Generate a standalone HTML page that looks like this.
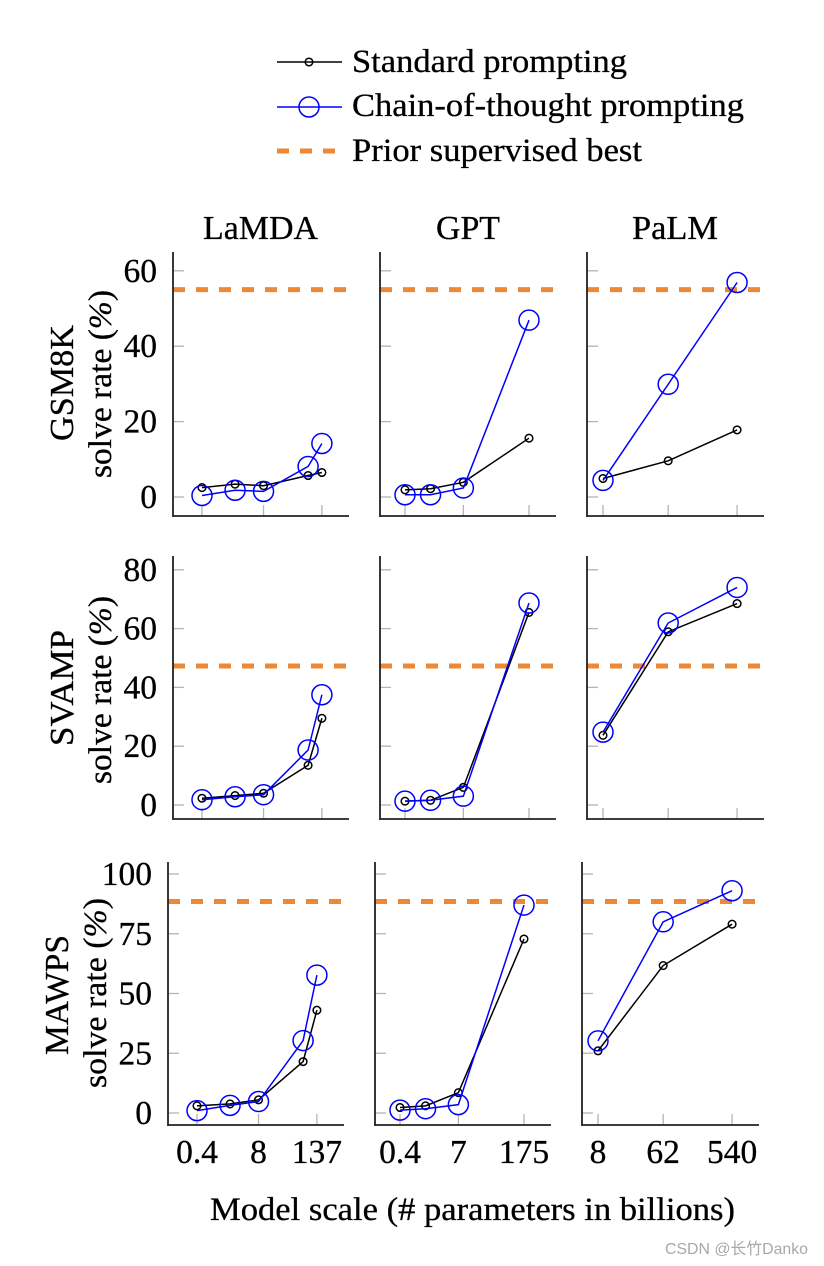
<!DOCTYPE html>
<html lang="en">
<head>
<meta charset="utf-8">
<title>Model scale vs solve rate</title>
<style>
html,body{margin:0;padding:0;background:#fff;}
svg{display:block;font-family:"Liberation Serif","Noto Serif CJK SC",serif;fill:#000;}
text{stroke:#000;stroke-width:0.3px;}
text.wm{font-family:"Liberation Sans","Noto Sans CJK SC",sans-serif;stroke:none;fill:#a8a8a8;}
</style>
</head>
<body>
<svg id="chart" width="824" height="1266" viewBox="0 0 824 1266" xmlns="http://www.w3.org/2000/svg">
  <g>
    <g>
      <line x1="277" y1="62" x2="342" y2="62" stroke="#000" stroke-width="1.5"/>
      <circle cx="309" cy="62" r="3.8" fill="none" stroke="#000" stroke-width="1.5"/>
      <text x="352" y="72" font-size="33" textLength="275" lengthAdjust="spacingAndGlyphs">Standard prompting</text>
    </g>
    <g>
      <line x1="277" y1="107" x2="342" y2="107" stroke="#0000ff" stroke-width="1.5"/>
      <circle cx="309" cy="107" r="10" fill="none" stroke="#0000ff" stroke-width="1.5"/>
      <text x="352" y="116" font-size="33" textLength="392" lengthAdjust="spacingAndGlyphs">Chain-of-thought prompting</text>
    </g>
    <g>
      <line x1="277" y1="151" x2="336" y2="151" stroke="#ed8936" stroke-width="5" stroke-dasharray="12 11"/>
      <text x="352" y="161" font-size="33" textLength="290" lengthAdjust="spacingAndGlyphs">Prior supervised best</text>
    </g>
  </g>
  <text x="203" y="239" font-size="34" textLength="115" lengthAdjust="spacingAndGlyphs">LaMDA</text>
  <text x="436" y="239" font-size="34" textLength="64" lengthAdjust="spacingAndGlyphs">GPT</text>
  <text x="632" y="239" font-size="34" textLength="86" lengthAdjust="spacingAndGlyphs">PaLM</text>

  <text transform="translate(73,441) rotate(-90)" font-size="34" textLength="116" lengthAdjust="spacingAndGlyphs">GSM8K</text>
  <text transform="translate(111,478) rotate(-90)" font-size="33" textLength="188" lengthAdjust="spacingAndGlyphs">solve rate (<tspan font-style="italic">%</tspan>)</text>
  <text transform="translate(73,746) rotate(-90)" font-size="34" textLength="116" lengthAdjust="spacingAndGlyphs">SVAMP</text>
  <text transform="translate(111,784) rotate(-90)" font-size="33" textLength="188" lengthAdjust="spacingAndGlyphs">solve rate (<tspan font-style="italic">%</tspan>)</text>
  <text transform="translate(68,1055) rotate(-90)" font-size="34" textLength="120" lengthAdjust="spacingAndGlyphs">MAWPS</text>
  <text transform="translate(106,1088) rotate(-90)" font-size="33" textLength="190" lengthAdjust="spacingAndGlyphs">solve rate (<tspan font-style="italic">%</tspan>)</text>

  <text x="210" y="1220" font-size="33" textLength="525" lengthAdjust="spacingAndGlyphs">Model scale (# parameters in billions)</text>
  <text class="wm" x="665" y="1254" font-size="16" textLength="143" lengthAdjust="spacingAndGlyphs">CSDN @长竹Danko</text>
  <g id="panels"></g>
</svg>
<script>
// Model sizes (billions of parameters)
const lamdaScale = [0.4, 2, 8, 70, 137];
const gptScale = [0.4, 1.4, 7, 175];
const palmScale = [8, 62, 540];

// x tick values and labels
const lamdaTicks = [0.4, 8, 137];
const gptTicks = [0.4, 7, 175];
const palmTicks = [8, 62, 540];

// y tick values
const gsmYTicks = [0, 20, 40, 60];
const svampYTicks = [0, 20, 40, 60, 80];
const mawpsYTicks = [0, 25, 50, 75, 100];

// Prior supervised best per dataset
const gsmPrior = 55;
const svampPrior = 47.3;
const mawpsPrior = 88.5;

// GSM8K solve rates
const gsmLamdaStandard = [2.5, 3.4, 3.0, 5.7, 6.5];
const gsmLamdaCot = [0.4, 1.8, 1.5, 8.1, 14.2];
const gsmGptStandard = [1.9, 2.2, 3.9, 15.6];
const gsmGptCot = [0.6, 0.6, 2.4, 46.9];
const gsmPalmStandard = [4.9, 9.6, 17.8];
const gsmPalmCot = [4.4, 29.9, 56.9];

// SVAMP solve rates
const svampLamdaStandard = [2.3, 3.2, 4.0, 13.5, 29.5];
const svampLamdaCot = [1.8, 2.8, 3.5, 18.7, 37.5];
const svampGptStandard = [1.3, 1.6, 6.0, 65.5];
const svampGptCot = [1.3, 1.6, 3.0, 68.7];
const svampPalmStandard = [23.7, 58.9, 68.5];
const svampPalmCot = [24.8, 61.9, 74.0];

// MAWPS solve rates
const mawpsLamdaStandard = [3.0, 3.8, 5.5, 21.5, 43.0];
const mawpsLamdaCot = [1.0, 3.2, 4.8, 30.3, 57.7];
const mawpsGptStandard = [2.3, 3.0, 8.5, 72.8];
const mawpsGptCot = [1.2, 1.8, 3.5, 87.0];
const mawpsPalmStandard = [26.0, 61.7, 79.0];
const mawpsPalmCot = [30.2, 80.0, 93.0];

const NS = 'http://www.w3.org/2000/svg';
function make(parent, tag, attrs, text) {
  const el = document.createElementNS(NS, tag);
  for (const k in attrs) el.setAttribute(k, attrs[k]);
  if (text !== undefined) el.textContent = text;
  parent.appendChild(el);
  return el;
}

// Log-scale x axis: first model sits at `start` px, `perDecade` px per decade
function xAxis(left, column) {
  return v => left + column.start + (Math.log10(v) - Math.log10(column.scale[0])) * column.perDecade;
}
// Linear y axis
function yAxis(row) {
  return v => row.zero - v * row.perUnit;
}

const columns = [
  {key: 'lamda', scale: lamdaScale, ticks: lamdaTicks, start: 29, perDecade: 47.3, width: 176},
  {key: 'gpt', scale: gptScale, ticks: gptTicks, start: 25, perDecade: 46.95, width: 176},
  {key: 'palm', scale: palmScale, ticks: palmTicks, start: 16, perDecade: 73.3, width: 177}
];
const rows = [
  {key: 'gsm8k', top: 252, bottom: 516, zero: 497, perUnit: 3.77, lefts: [173, 380, 587], yTicks: gsmYTicks, prior: gsmPrior,
   standard: [gsmLamdaStandard, gsmGptStandard, gsmPalmStandard], cot: [gsmLamdaCot, gsmGptCot, gsmPalmCot], xLabels: false},
  {key: 'svamp', top: 556, bottom: 819, zero: 805, perUnit: 2.94, lefts: [173, 380, 587], yTicks: svampYTicks, prior: svampPrior,
   standard: [svampLamdaStandard, svampGptStandard, svampPalmStandard], cot: [svampLamdaCot, svampGptCot, svampPalmCot], xLabels: false},
  {key: 'mawps', top: 862, bottom: 1125, zero: 1113, perUnit: 2.39, lefts: [168, 375, 582], yTicks: mawpsYTicks, prior: mawpsPrior,
   standard: [mawpsLamdaStandard, mawpsGptStandard, mawpsPalmStandard], cot: [mawpsLamdaCot, mawpsGptCot, mawpsPalmCot], xLabels: true}
];
const root = document.getElementById('panels');

function drawSeries(g, name, scale, values, x, y, color, radius) {
  const pts = scale.map((s, i) => x(s).toFixed(2) + ',' + y(values[i]).toFixed(2)).join(' ');
  const line = make(g, 'polyline', {points: pts, fill: 'none', stroke: color, 'stroke-width': 1.5});
  
  
  scale.forEach((s, i) => {
    const c = make(g, 'circle', {cx: x(s), cy: y(values[i]), r: radius, fill: 'none', stroke: color, 'stroke-width': 1.5});
    
    
  });
}

rows.forEach(row => {
  columns.forEach((col, ci) => {
    const left = row.lefts[ci];
    const x = xAxis(left, col);
    const y = yAxis(row);
    const g = make(root, 'g', {});
    
    

    row.yTicks.forEach(t => {
      const tick = make(g, 'line', {x1: left, x2: left + 11, y1: y(t), y2: y(t), stroke: '#b4b4b4', 'stroke-width': 1.3});
      
      
      if (ci === 0) {
        const lab = make(g, 'text', {x: left - 16, y: y(t) + 11, 'font-size': 33.5, 'text-anchor': 'end'}, String(t));
        
        
      }
    });
    col.ticks.forEach(t => {
      const tick = make(g, 'line', {x1: x(t), x2: x(t), y1: row.bottom, y2: row.bottom - 11, stroke: '#b4b4b4', 'stroke-width': 1.3});
      
      
      if (row.xLabels) {
        const lab = make(g, 'text', {x: x(t), y: row.bottom + 38, 'font-size': 33.5, 'text-anchor': 'middle'}, String(t));
        
        
      }
    });

    const prior = make(g, 'line', {x1: left, x2: left + col.width - 3, y1: y(row.prior), y2: y(row.prior), stroke: '#ed8936', 'stroke-width': 5, 'stroke-dasharray': '12 11'});
    
    

    drawSeries(g, 'standard', col.scale, row.standard[ci], x, y, '#000000', 3.8);
    drawSeries(g, 'chain-of-thought', col.scale, row.cot[ci], x, y, '#0000ff', 10);

    const spineY = make(g, 'line', {x1: left, x2: left, y1: row.top, y2: row.bottom + 1, stroke: '#222', 'stroke-width': 1.8});
    
    
    const spineX = make(g, 'line', {x1: left, x2: left + col.width, y1: row.bottom, y2: row.bottom, stroke: '#222', 'stroke-width': 1.8});
    
    
  });
});
</script>
</body>
</html>
